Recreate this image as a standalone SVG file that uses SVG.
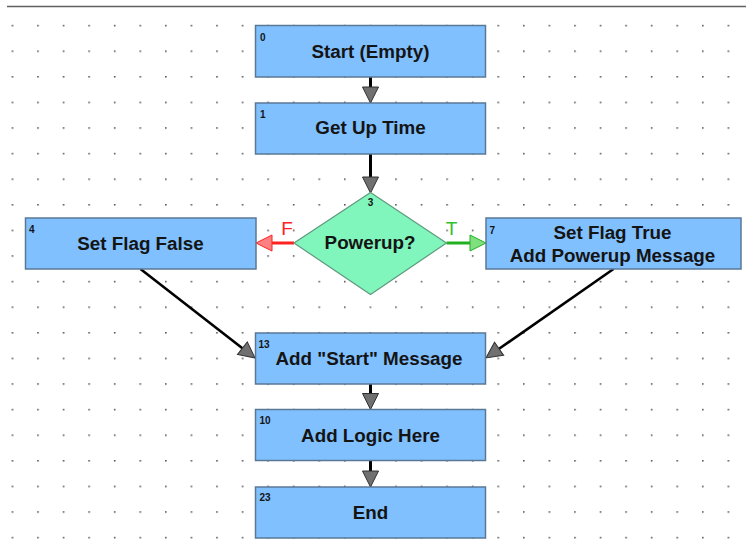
<svg xmlns="http://www.w3.org/2000/svg" width="746" height="541" viewBox="0 0 746 541">
<style>
.box{fill:#80c0ff;stroke:#5a7896;stroke-width:1.5}
.dia{fill:#80f5bc;stroke:#5f9a7e;stroke-width:1.2}
.t{font-family:"Liberation Sans",Arial,sans-serif;font-weight:bold;font-size:18.8px;fill:#141414;text-anchor:middle}
.n{font-family:"Liberation Sans",Arial,sans-serif;font-weight:bold;font-size:10px;fill:#141414}
.c{stroke:#000;stroke-width:3;fill:none}
.d{stroke:#000;stroke-width:2.6;fill:none}
.lbl{font-family:"Liberation Sans",Arial,sans-serif;font-size:19px;text-anchor:middle}
</style>
<defs>
<pattern id="grid" patternUnits="userSpaceOnUse" x="11.6" y="24.8" width="25.57" height="25.6">
<rect x="0" y="0" width="1.6" height="1.6" fill="#5a5a5a"/>
</pattern>
<marker id="ah" markerUnits="userSpaceOnUse" markerWidth="20" markerHeight="20" refX="1" refY="10" orient="auto">
<path d="M1,2 L17,10 L1,18 Z" fill="#707070" stroke="#303030" stroke-width="1"/>
</marker>
<marker id="ahr" markerUnits="userSpaceOnUse" markerWidth="20" markerHeight="20" refX="1" refY="10" orient="auto">
<path d="M1,2 L17,10 L1,18 Z" fill="#ff8080" stroke="#ff2020" stroke-width="1"/>
</marker>
<marker id="ahg" markerUnits="userSpaceOnUse" markerWidth="20" markerHeight="20" refX="1" refY="10" orient="auto">
<path d="M1,2 L17,10 L1,18 Z" fill="#80e080" stroke="#20b020" stroke-width="1"/>
</marker>
</defs>
<rect width="746" height="541" fill="#fff"/>
<rect x="0" y="12" width="746" height="529" fill="url(#grid)"/>
<line x1="7" y1="6.5" x2="746" y2="6.5" stroke="#606060" stroke-width="1.6"/>

<g id="connectors">
<line class="c" x1="370.5" y1="77" x2="370.5" y2="87" marker-end="url(#ah)"/>
<line class="c" x1="370.5" y1="154" x2="370.5" y2="177" marker-end="url(#ah)"/>
<line x1="294" y1="243" x2="272" y2="243" stroke="#ff2020" stroke-width="3" marker-end="url(#ahr)"/>
<line x1="446.5" y1="243" x2="470" y2="243" stroke="#20b020" stroke-width="3" marker-end="url(#ahg)"/>
<line class="d" x1="140.5" y1="269" x2="242.4" y2="348.2" marker-end="url(#ah)"/>
<line class="d" x1="613.5" y1="269" x2="499.1" y2="348.8" marker-end="url(#ah)"/>
<line class="c" x1="370.5" y1="384" x2="370.5" y2="393.5" marker-end="url(#ah)"/>
<line class="c" x1="370.5" y1="460.5" x2="370.5" y2="471" marker-end="url(#ah)"/>
<text class="lbl" x="287" y="235" fill="#ff2020">F</text>
<text class="lbl" x="451.5" y="235" fill="#30c030">T</text>
</g>

<g id="node0">
<rect class="box" x="255.5" y="25.5" width="230" height="51.5"/>
<text class="n" x="260" y="40.5">0</text>
<text class="t" x="370.5" y="57.5">Start (Empty)</text>
</g>
<g id="node1">
<rect class="box" x="255.5" y="103" width="230" height="51"/>
<text class="n" x="260" y="118">1</text>
<text class="t" x="370.5" y="134">Get Up Time</text>
</g>
<g id="node3">
<polygon class="dia" points="370.5,192.5 446.5,243 370.5,294.5 294,243"/>
<text class="n" x="370.5" y="206" text-anchor="middle">3</text>
<text class="t" x="370" y="248.5">Powerup?</text>
</g>
<g id="node4">
<rect class="box" x="25.5" y="218" width="230.5" height="51"/>
<text class="n" x="29" y="233">4</text>
<text class="t" x="140.5" y="249.5">Set Flag False</text>
</g>
<g id="node7">
<rect class="box" x="486" y="218" width="255" height="51"/>
<text class="n" x="489.5" y="233.5">7</text>
<text class="t" x="612.5" y="238.5">Set Flag True</text>
<text class="t" x="612.5" y="261.5">Add Powerup Message</text>
</g>
<g id="node13">
<rect class="box" x="255.5" y="333" width="230" height="51"/>
<text class="n" x="258.5" y="347.5">13</text>
<text class="t" x="369" y="364.5">Add "Start" Message</text>
</g>
<g id="node10">
<rect class="box" x="255.5" y="409.5" width="230" height="51"/>
<text class="n" x="259.5" y="423.5">10</text>
<text class="t" x="370.5" y="441.5">Add Logic Here</text>
</g>
<g id="node23">
<rect class="box" x="255.5" y="487" width="230" height="51"/>
<text class="n" x="259.5" y="500.5">23</text>
<text class="t" x="370.5" y="518.5">End</text>
</g>
</svg>
